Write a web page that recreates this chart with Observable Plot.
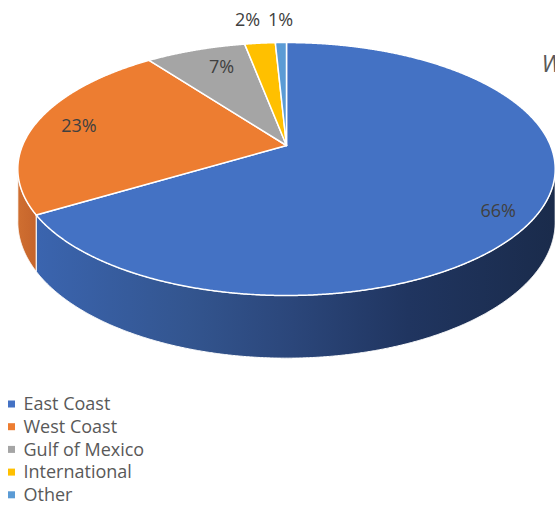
<!DOCTYPE html>
<html>
<head>
<meta charset="utf-8">
<script src="https://cdn.jsdelivr.net/npm/d3@7"></script>
<script src="https://cdn.jsdelivr.net/npm/@observablehq/plot@0.6"></script>
<style>
  html, body { margin: 0; padding: 0; background: #fff; overflow: hidden; }
  #chart svg { display: block; }
</style>
</head>
<body>
<div id="chart"></div>
<script>
// ---- data ----
const categories = ["East Coast", "West Coast", "Gulf of Mexico", "International", "Other"];
const shares = [66.4, 23.4, 7.2, 2.2, 0.8];
const titleText = "W";

// ---- styling / layout ----
const palette = ["#4472C4", "#ED7D31", "#A5A5A5", "#FFC000", "#5B9BD5"];
const sideFills = {"East Coast": "url(#sideBlue)", "West Coast": "url(#sideOrange)",
  "Gulf of Mexico": "#7c7c7c", "International": "#bf9000", "Other": "#44749f"};
const W = 555, H = 506;
const geom = {cx: 286, cy: 145, A: 122.1, B: 264, k: 0.186, depth: 51};
const labelNudge = {"East Coast": [0, 10], "West Coast": [6, 0], "Gulf of Mexico": [14, 5], "International": [-6, 2], "Other": [1, 3]};
const FONT = "'Open Sans', 'Noto Sans', sans-serif";

function proj(theta, r, z) {
  const u = r * Math.sin(theta), v = r * Math.cos(theta);
  const den = 1 + geom.k * v;
  return [geom.cx + geom.B * u / den, geom.cy - geom.A * v / den + z * geom.depth / den];
}

const total = d3.sum(shares);
let acc = 0;
const slices = categories.map((c, i) => {
  const a0 = acc / total * 2 * Math.PI;
  acc += shares[i];
  const a1 = acc / total * 2 * Math.PI;
  return {category: c, share: shares[i], a0, a1};
});

const step = Math.PI / 720;
function arc(a0, a1, r, z) {
  const n = Math.max(2, Math.ceil(Math.abs(a1 - a0) / step));
  return d3.range(n + 1).map(j => proj(a0 + (a1 - a0) * j / n, r, z));
}

// top face polygons
const topPts = [];
for (const s of slices) {
  const c = [geom.cx, geom.cy];
  const pts = [c, ...arc(s.a0, s.a1, 1, 0), c];
  pts.forEach(p => topPts.push({category: s.category, x: p[0], y: p[1]}));
}

// visible outer wall
const vis0 = Math.acos(-geom.k), vis1 = 2 * Math.PI - vis0;
const sideMarks = [];
for (const s of slices) {
  const b0 = Math.max(s.a0, vis0), b1 = Math.min(s.a1, vis1);
  if (b1 <= b0) continue;
  const pts = [...arc(b0, b1, 1, 0), ...arc(b1, b0, 1, 1)];
  pts.push(pts[0]);
  sideMarks.push(Plot.line(pts.map(p => ({x: p[0], y: p[1]})), {
    x: "x", y: "y", fill: sideFills[s.category], stroke: "white", strokeWidth: 1, strokeLinejoin: "round"
  }));
}

// labels
const labelData = slices.map(s => {
  const mid = (s.a0 + s.a1) / 2;
  const f = s.share >= 5 ? 0.85 : 1.3;
  const p = proj(mid, f, 0);
  const n = labelNudge[s.category];
  return {text: Math.round(s.share) + "%", x: p[0] + n[0], y: p[1] + n[1]};
});

// legend
const legendData = categories.map((c, i) => ({category: c, i}));
const rowY = i => 404 + i * 22.7;

function gradients() {
  const ns = "http://www.w3.org/2000/svg";
  const defs = document.createElementNS(ns, "defs");
  const make = (id, x1, x2, stops) => {
    const g = document.createElementNS(ns, "linearGradient");
    g.setAttribute("id", id);
    g.setAttribute("gradientUnits", "userSpaceOnUse");
    g.setAttribute("x1", x1); g.setAttribute("x2", x2);
    g.setAttribute("y1", 0); g.setAttribute("y2", 0);
    for (const [o, col] of stops) {
      const st = document.createElementNS(ns, "stop");
      st.setAttribute("offset", o); st.setAttribute("stop-color", col);
      g.appendChild(st);
    }
    defs.appendChild(g);
  };
  make("sideBlue", 30, 555, [[0, "#3b65b0"], [0.3, "#33558f"], [0.5, "#2b467a"], [0.72, "#203560"], [1, "#1a2b4b"]]);
  make("sideOrange", 18, 42, [[0, "#cf6e30"], [1, "#c2612a"]]);
  return defs;
}

const chart = Plot.plot({
  width: W, height: H,
  marginTop: 0, marginRight: 0, marginBottom: 0, marginLeft: 0,
  x: {domain: [0, W], range: [0, W], axis: null},
  y: {domain: [0, H], range: [0, H], axis: null},
  color: {domain: categories, range: palette},
  style: {background: "#fff"},
  marks: [
    gradients,
    ...sideMarks,
    Plot.line(topPts, {x: "x", y: "y", z: "category", fill: "category", stroke: "white", strokeWidth: 1.5, strokeLinejoin: "round"}),
    Plot.text(labelData, {x: "x", y: "y", text: "text", fill: "#404040", fontSize: 18, fontFamily: FONT}),
    Plot.rect(legendData, {x1: () => 8, x2: () => 15, y1: d => rowY(d.i) - 3.5, y2: d => rowY(d.i) + 3.5, fill: "category"}),
    Plot.text(legendData, {x: () => 23, y: d => rowY(d.i), text: "category", textAnchor: "start", fill: "#595959", fontSize: 18, fontFamily: FONT}),
    Plot.text([titleText], {x: () => 541, y: () => 64, text: d => d, textAnchor: "start", fill: "#595959", fontSize: 24, fontStyle: "italic", fontFamily: FONT})
  ]
});
document.getElementById("chart").appendChild(chart);
</script>
</body>
</html>
